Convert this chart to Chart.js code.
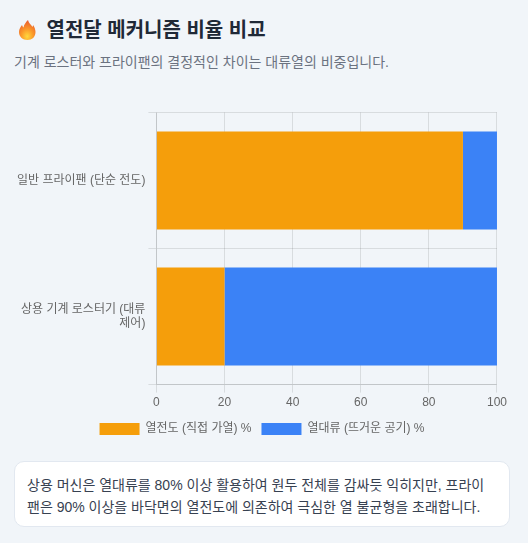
<!DOCTYPE html>
<html lang="ko">
<head>
<meta charset="utf-8">
<script src="https://cdn.jsdelivr.net/npm/chart.js@4"></script>
<style>
body { margin: 0; background: #f1f5f9; width: 528px; height: 543px; overflow: hidden; font-family: "Liberation Sans", "Noto Sans CJK KR", sans-serif; }
h2 { position: absolute; left: 46.5px; top: 15px; margin: 0; font-size: 20px; line-height: 30px; font-weight: 700; color: #1f2937; white-space: nowrap; }
.flame { position: absolute; left: 18px; top: 20px; }
p.sub { position: absolute; left: 14px; top: 51px; margin: 0; font-size: 14px; line-height: 22px; color: #6b7280; }
#wrap { position: absolute; left: 14px; top: 95px; width: 496px; height: 350px; }
.note { position: absolute; left: 14px; top: 461px; width: 496px; height: 66px; box-sizing: border-box; padding: 12px; background: #fff; border: 1px solid #e2e8f0; border-radius: 10px; font-size: 14px; line-height: 22px; color: #374151; }
</style>
</head>
<body>
<svg class="flame" width="18" height="20" viewBox="0 0 18 20">
  <defs>
    <radialGradient id="fire" cx="0.5" cy="0.82" r="0.8">
      <stop offset="0" stop-color="#ffd83d"/>
      <stop offset="0.45" stop-color="#fb9a2a"/>
      <stop offset="1" stop-color="#ea5a2c"/>
    </radialGradient>
  </defs>
  <path fill="url(#fire)" d="M10 0 C10.5 3 13 4.5 14.5 7 C15 6 15 5.500 15 5 C16.500 7 17.500 9.500 17.500 12 C17.500 17 14 20 9.500 20 C4.500 20 1 16.500 1 12 C1 9 2.500 7 4 5 C4.500 6 4.800 7 5.500 7.500 C6 4.500 8 2 10 0 Z"/>
</svg>
<h2>열전달 메커니즘 비율 비교</h2>
<p class="sub">기계 로스터와 프라이팬의 결정적인 차이는 대류열의 비중입니다.</p>
<div id="wrap"><canvas id="myChart"></canvas></div>
<div class="note">상용 머신은 열대류를 80% 이상 활용하여 원두 전체를 감싸듯 익히지만, 프라이팬은 90% 이상을 바닥면의 열전도에 의존하여 극심한 열 불균형을 초래합니다.</div>
<script>
const categories = ['일반 프라이팬 (단순 전도)', ['상용 기계 로스터기 (대류', '제어)']]
const conduction = [90, 20]
const convection = [10, 80]

Chart.defaults.font.family = '"Liberation Sans", "Noto Sans CJK KR", sans-serif'

const ctx = document.getElementById('myChart')
new Chart(ctx, {
  type: 'bar',
  data: {
    labels: categories,
    datasets: [
      { label: '열전도 (직접 가열) %', data: conduction, backgroundColor: '#f59e0b' },
      { label: '열대류 (뜨거운 공기) %', data: convection, backgroundColor: '#3b82f6' }
    ]
  },
  options: {
    indexAxis: 'y',
    responsive: true,
    maintainAspectRatio: false,
    animation: false,
    scales: {
      x: { stacked: true, min: 0, max: 100, ticks: { stepSize: 20 } },
      y: { stacked: true }
    },
    plugins: {
      legend: { position: 'bottom' }
    }
  }
})
</script>
</body>
</html>
